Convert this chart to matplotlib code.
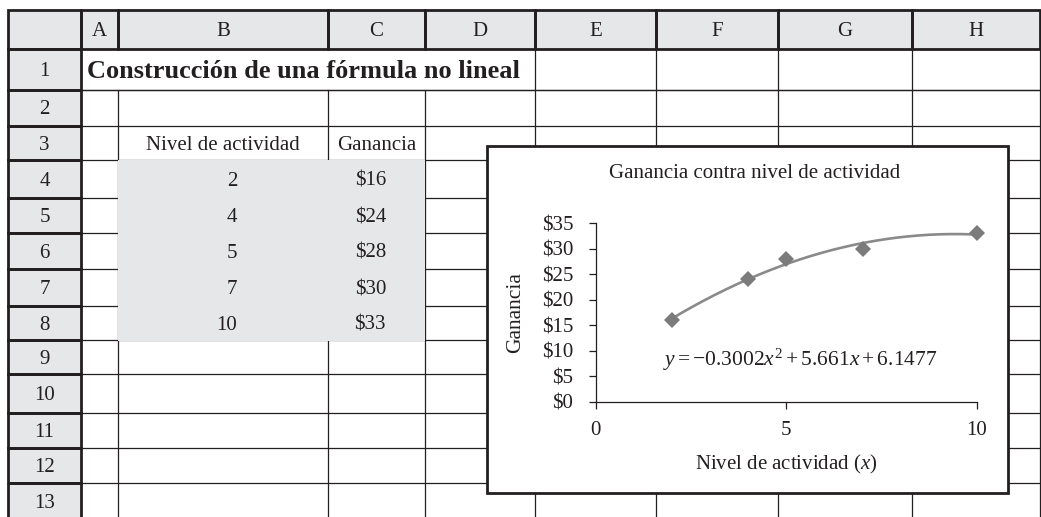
import numpy as np
import matplotlib
matplotlib.use("Agg")
import matplotlib.pyplot as plt
from matplotlib.patches import Rectangle

plt.rcParams["font.family"] = ["Liberation Serif", "DejaVu Serif"]
plt.rcParams["mathtext.fontset"] = "custom"
plt.rcParams["mathtext.rm"] = "Liberation Serif"
plt.rcParams["mathtext.it"] = "Liberation Serif:italic"

# sheet contents
col_letters = ["A", "B", "C", "D", "E", "F", "G", "H"]
row_numbers = list(range(1, 14))
sheet_title = "Construcción de una fórmula no lineal"
header_b = "Nivel de actividad"
header_c = "Ganancia"
nivel = [2, 4, 5, 7, 10]
ganancia = [16, 24, 28, 30, 33]

chart_title = "Ganancia contra nivel de actividad"
y_ticks = [0, 5, 10, 15, 20, 25, 30, 35]
x_ticks = [0, 5, 10]
equation = r"$y = -0.3002x^2 + 5.661x + 6.1477$"

# layout (pixels)
W, H = 1041, 517
col_edges = [8, 81, 118, 328, 425, 535, 656, 778, 912, 1040]
row_edges = [10, 49, 90, 126, 160, 198, 233, 269, 306, 340, 374, 413, 448, 483, 520]
ink = "#231f20"
gray_fill = "#e6e7e8"
thin = 0.9
thick = 2.0
fs = 15

fig = plt.figure(figsize=(W / 100, H / 100), dpi=100)
bg = fig.add_axes([0, 0, 1, 1])
bg.set_xlim(0, W)
bg.set_ylim(H, 0)
bg.axis("off")

# header fills
bg.add_patch(Rectangle((col_edges[0], row_edges[0]), col_edges[-1] - col_edges[0],
                       row_edges[1] - row_edges[0], facecolor=gray_fill, edgecolor="none", zorder=0))
bg.add_patch(Rectangle((col_edges[0], row_edges[0]), col_edges[1] - col_edges[0],
                       H - row_edges[0], facecolor=gray_fill, edgecolor="none", zorder=0))

# thin grid
for y in row_edges[2:]:
    bg.plot([col_edges[1], col_edges[-1]], [y, y], color=ink, lw=thin, zorder=1)
bg.plot([col_edges[1], col_edges[-1]], [row_edges[2], row_edges[2]], color=ink, lw=thin, zorder=1)
for i, x in enumerate(col_edges[2:], start=2):
    top = row_edges[2] if i <= 4 else row_edges[1]
    bg.plot([x, x], [top, H], color=ink, lw=thin, zorder=1)

# shaded data block covers the grid
bg.add_patch(Rectangle((col_edges[2], row_edges[4] - 0.5), col_edges[4] - col_edges[2],
                       row_edges[9] - row_edges[4] + 1, facecolor=gray_fill,
                       edgecolor="none", zorder=2))

# header cells with heavy borders
for i in range(len(col_edges) - 1):
    bg.add_patch(Rectangle((col_edges[i], row_edges[0]), col_edges[i + 1] - col_edges[i],
                           row_edges[1] - row_edges[0], facecolor="none",
                           edgecolor=ink, lw=thick, zorder=3))
for j in range(1, len(row_edges) - 1):
    bg.add_patch(Rectangle((col_edges[0], row_edges[j]), col_edges[1] - col_edges[0],
                           row_edges[j + 1] - row_edges[j], facecolor="none",
                           edgecolor=ink, lw=thick, zorder=3))

def cx(i):
    return (col_edges[i] + col_edges[i + 1]) / 2

def cy(j):
    return (row_edges[j] + row_edges[j + 1]) / 2 + 2

for i, letter in enumerate(col_letters):
    bg.text(cx(i + 1), cy(0), letter, ha="center", va="center", fontsize=fs, color=ink, zorder=4)
for j, n in enumerate(row_numbers):
    bg.text(cx(0), cy(j + 1), str(n), ha="center", va="center", fontsize=fs, color=ink, zorder=4)

bg.text(col_edges[1] + 6, cy(1), sheet_title, ha="left", va="center", fontsize=19,
        fontweight="bold", color=ink, zorder=4)
bg.text(cx(2), cy(3), header_b, ha="center", va="center", fontsize=fs, color=ink, zorder=4)
bg.text(cx(3), cy(3), header_c, ha="center", va="center", fontsize=fs, color=ink, zorder=4)
for k, (nv, g) in enumerate(zip(nivel, ganancia)):
    bg.text(237, cy(4 + k), str(nv), ha="right", va="center", fontsize=fs, color=ink, zorder=4)
    bg.text(386, cy(4 + k), "\\$%d" % g, ha="right", va="center", fontsize=fs, color=ink, zorder=4)

# embedded chart frame
bg.add_patch(Rectangle((487, 146), 521, 347, facecolor="white", edgecolor=ink, lw=2.0, zorder=5))
bg.text(755, 173, chart_title, ha="center", va="center", fontsize=fs, color=ink, zorder=6)

x0, x1, yb, yt = 595.6, 977.0, 401.6, 223.0
ax = fig.add_axes([x0 / W, (H - yb) / H, (x1 - x0) / W, (yb - yt) / H])
ax.patch.set_alpha(0)
ax.set_xlim(0, 10)
ax.set_ylim(0, 35)
for s in ["top", "right"]:
    ax.spines[s].set_visible(False)
for s in ["left", "bottom"]:
    ax.spines[s].set_color(ink)
    ax.spines[s].set_linewidth(0.9)
ax.set_yticks(y_ticks)
ax.set_yticklabels(["\\$%d" % v for v in y_ticks])
ax.set_xticks(x_ticks)
ax.set_xticklabels([str(v) for v in x_ticks])
ax.tick_params(axis="y", direction="out", length=5, width=0.9, color=ink, pad=11,
               labelsize=fs, labelcolor=ink)
ax.tick_params(axis="x", direction="out", length=5, width=0.9, color=ink, pad=9,
               labelsize=fs, labelcolor=ink)

coef = np.polyfit(nivel, ganancia, 2)
xs = np.linspace(min(nivel), max(nivel), 200)
ax.plot(xs, np.polyval(coef, xs), color="#8a8a8a", lw=1.9, zorder=2, clip_on=False)
ax.plot(nivel, ganancia, linestyle="none", marker="D", markersize=8.2, color="#7b7b7b",
        markeredgewidth=0, zorder=3, clip_on=False)

ax.text(5.36, 8.15, equation, ha="center", va="center", fontsize=15.5, color=ink)
ax.set_ylabel("Ganancia", fontsize=15.5, color=ink)
ax.yaxis.set_label_coords(-0.186, 0.5)
ax.set_xlabel("Nivel de actividad ($x$)", fontsize=fs, color=ink)
ax.xaxis.set_label_coords(0.499, -0.285)

fig.savefig("out.png", dpi=100)
